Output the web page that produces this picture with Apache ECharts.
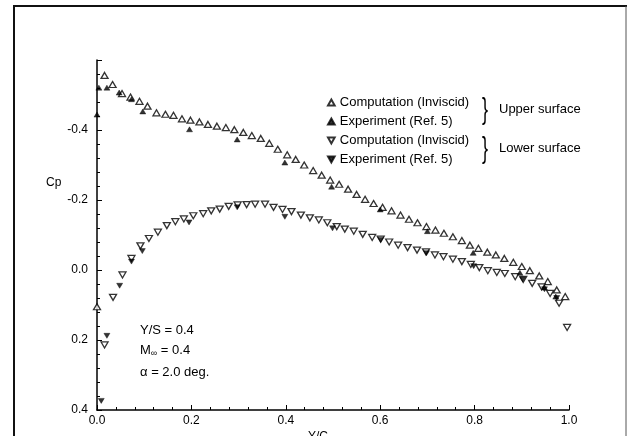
<!DOCTYPE html>
<html>
<head>
<meta charset="utf-8">
<script src="https://cdn.jsdelivr.net/npm/echarts@6/dist/echarts.min.js"></script>
<style>
html,body{margin:0;padding:0;background:#fff;}
#chart{width:638px;height:436px;}
</style>
</head>
<body>
<div id="chart"></div>
<script>
// ---- data ----
var upperCompX = [0.0, 0.016, 0.033, 0.053, 0.071, 0.09, 0.107, 0.126, 0.145, 0.162, 0.18, 0.198, 0.217, 0.235, 0.254, 0.273, 0.291, 0.31, 0.328, 0.347, 0.365, 0.383, 0.403, 0.421, 0.439, 0.458, 0.476, 0.494, 0.513, 0.532, 0.55, 0.568, 0.586, 0.605, 0.624, 0.643, 0.661, 0.679, 0.698, 0.717, 0.735, 0.754, 0.773, 0.79, 0.808, 0.827, 0.845, 0.863, 0.882, 0.9, 0.917, 0.937, 0.955, 0.974, 0.992];
var upperCompCp = [0.105, -0.556, -0.53, -0.504, -0.494, -0.482, -0.468, -0.449, -0.445, -0.442, -0.432, -0.428, -0.423, -0.416, -0.411, -0.407, -0.401, -0.393, -0.384, -0.376, -0.362, -0.345, -0.329, -0.316, -0.3, -0.284, -0.271, -0.257, -0.245, -0.231, -0.216, -0.202, -0.19, -0.179, -0.169, -0.157, -0.145, -0.135, -0.124, -0.114, -0.105, -0.095, -0.084, -0.071, -0.062, -0.051, -0.043, -0.033, -0.022, -0.01, 0.002, 0.017, 0.033, 0.057, 0.076];

var upperExpX = [0.0, 0.004, 0.021, 0.047, 0.073, 0.097, 0.196, 0.297, 0.398, 0.497, 0.6, 0.7, 0.797, 0.896, 0.948, 0.972];
var upperExpCp = [-0.444, -0.521, -0.521, -0.507, -0.488, -0.453, -0.402, -0.373, -0.307, -0.238, -0.173, -0.111, -0.049, 0.008, 0.05, 0.076];

var lowerCompX = [0.016, 0.034, 0.054, 0.073, 0.092, 0.11, 0.129, 0.148, 0.166, 0.184, 0.204, 0.225, 0.242, 0.26, 0.279, 0.298, 0.317, 0.335, 0.356, 0.374, 0.393, 0.412, 0.432, 0.451, 0.47, 0.488, 0.508, 0.525, 0.544, 0.563, 0.583, 0.601, 0.619, 0.638, 0.658, 0.678, 0.697, 0.716, 0.734, 0.754, 0.773, 0.792, 0.81, 0.828, 0.847, 0.864, 0.886, 0.903, 0.922, 0.942, 0.96, 0.979, 0.996];
var lowerCompCp = [0.214, 0.078, 0.014, -0.033, -0.069, -0.09, -0.108, -0.127, -0.138, -0.146, -0.155, -0.161, -0.169, -0.174, -0.182, -0.186, -0.187, -0.188, -0.188, -0.179, -0.173, -0.167, -0.157, -0.149, -0.143, -0.135, -0.124, -0.117, -0.111, -0.102, -0.093, -0.088, -0.08, -0.071, -0.064, -0.057, -0.052, -0.043, -0.038, -0.031, -0.024, -0.016, -0.007, 0.002, 0.007, 0.01, 0.019, 0.027, 0.038, 0.048, 0.067, 0.095, 0.164];

var lowerExpX = [0.009, 0.021, 0.048, 0.073, 0.096, 0.195, 0.297, 0.398, 0.499, 0.601, 0.698, 0.798, 0.902, 0.948, 0.974];
var lowerExpCp = [0.374, 0.188, 0.045, -0.024, -0.054, -0.136, -0.179, -0.152, -0.119, -0.086, -0.048, -0.011, 0.027, 0.055, 0.08];

var xTicks = [0.0, 0.2, 0.4, 0.6, 0.8, 1.0];
var yTicks = [-0.4, -0.2, 0.0, 0.2, 0.4];

var legendNames = {
  upperComp: 'Computation (Inviscid)',
  upperExp: 'Experiment (Ref. 5)',
  lowerComp: 'Computation (Inviscid)',
  lowerExp: 'Experiment (Ref. 5)'
};

function zip(xs, ys) { return xs.map(function (x, i) { return [x, ys[i]]; }); }

var FONT = '"Liberation Sans", Arial, Helvetica, sans-serif';
var DOWN = 'path://M0,0L10,0L5,9Z';
var UP = 'path://M5,0L10,9L0,9Z';

var chart = echarts.init(document.getElementById('chart'), null, {renderer: 'canvas'});
chart.setOption({
  backgroundColor: '#fff',
  animation: false,
  textStyle: {fontFamily: FONT, color: '#000'},
  grid: {left: 97, right: 69, top: 60, bottom: 26},
  xAxis: {
    type: 'value', min: 0, max: 1, interval: 0.2,
    axisLine: {show: true, onZero: false, lineStyle: {color: '#000', width: 1.5}},
    axisTick: {show: true, inside: true, length: 5, lineStyle: {color: '#000'}},
    minorTick: {show: true, splitNumber: 5, length: 3, lineStyle: {color: '#000'}},
    splitLine: {show: false},
    axisLabel: {color: '#000', fontSize: 12, fontFamily: FONT, margin: 5,
      formatter: function (v) {
        for (var i = 0; i < xTicks.length; i++) if (Math.abs(xTicks[i] - v) < 1e-6) return xTicks[i].toFixed(1);
        return '';
      }}
  },
  yAxis: {
    type: 'value', inverse: true, min: -0.6, max: 0.4, interval: 0.2,
    axisLine: {show: true, onZero: false, lineStyle: {color: '#000', width: 1.5}},
    axisTick: {show: true, inside: true, length: 5, lineStyle: {color: '#000'}},
    minorTick: {show: true, splitNumber: 5, length: 3, lineStyle: {color: '#000'}},
    splitLine: {show: false},
    axisLabel: {color: '#000', fontSize: 12, fontFamily: FONT, margin: 9,
      formatter: function (v) {
        for (var i = 0; i < yTicks.length; i++) if (Math.abs(yTicks[i] - v) < 1e-6) return yTicks[i].toFixed(1);
        return '';
      }}
  },
  legend: {
    orient: 'vertical', left: 322, top: 91, itemGap: 6, itemWidth: 7, itemHeight: 6,
    selectedMode: false,
    textStyle: {fontSize: 13, fontFamily: FONT, color: '#000', lineHeight: 13},
    formatter: function (n) { return legendNames[n]; },
    data: ['upperComp', 'upperExp', 'lowerComp', 'lowerExp']
  },
  series: [
    {name: 'upperComp', type: 'scatter', symbol: UP, symbolSize: [7, 6],
     itemStyle: {color: '#fff', borderColor: '#000', borderWidth: 1.3},
     data: zip(upperCompX, upperCompCp), z: 3},
    {name: 'upperExp', type: 'scatter', symbol: UP, symbolSize: [6, 5],
     itemStyle: {color: '#000', borderColor: '#000', borderWidth: 0.5},
     data: zip(upperExpX, upperExpCp), z: 4},
    {name: 'lowerComp', type: 'scatter', symbol: DOWN, symbolSize: [7, 6],
     itemStyle: {color: '#fff', borderColor: '#000', borderWidth: 1.3},
     data: zip(lowerCompX, lowerCompCp), z: 3},
    {name: 'lowerExp', type: 'scatter', symbol: DOWN, symbolSize: [6, 5],
     itemStyle: {color: '#000', borderColor: '#000', borderWidth: 0.5},
     data: zip(lowerExpX, lowerExpCp), z: 4}
  ],
  graphic: [
    {type: 'polyline', shape: {points: [[14, 436], [14, 6], [627, 6]]}, style: {stroke: '#111', lineWidth: 2, fill: null}},
    {type: 'line', shape: {x1: 626, y1: 6, x2: 626, y2: 436}, style: {stroke: '#555', lineWidth: 1}},
    {type: 'text', left: 46, top: 177, style: {text: 'Cp', fontSize: 12, fontFamily: FONT, fill: '#000'}},
    {type: 'text', left: 482, top: 96, style: {text: '}', fontSize: 30, fontFamily: FONT, fill: '#000'}, scaleX: 0.6},
    {type: 'text', left: 499, top: 103, style: {text: 'Upper surface', fontSize: 13, fontFamily: FONT, fill: '#000'}},
    {type: 'text', left: 482, top: 135, style: {text: '}', fontSize: 30, fontFamily: FONT, fill: '#000'}, scaleX: 0.6},
    {type: 'text', left: 499, top: 142, style: {text: 'Lower surface', fontSize: 13, fontFamily: FONT, fill: '#000'}},
    {type: 'text', left: 140, top: 324, style: {text: 'Y/S = 0.4', fontSize: 13, fontFamily: FONT, fill: '#000'}},
    {type: 'text', left: 140, top: 344, style: {
      rich: {n: {fontSize: 13, fontFamily: FONT, fill: '#000'}, s: {fontSize: 9, fontFamily: FONT, fill: '#000', padding: [6, 0, 0, 0]}},
      text: '{n|M}{s|∞}{n| = 0.4}'}},
    {type: 'text', left: 140, top: 366, style: {text: 'α = 2.0 deg.', fontSize: 13, fontFamily: FONT, fill: '#000'}},
    {type: 'text', left: 308, top: 431, style: {text: 'Y/C', fontSize: 12, fontFamily: FONT, fill: '#000'}}
  ]
});
</script>
</body>
</html>
